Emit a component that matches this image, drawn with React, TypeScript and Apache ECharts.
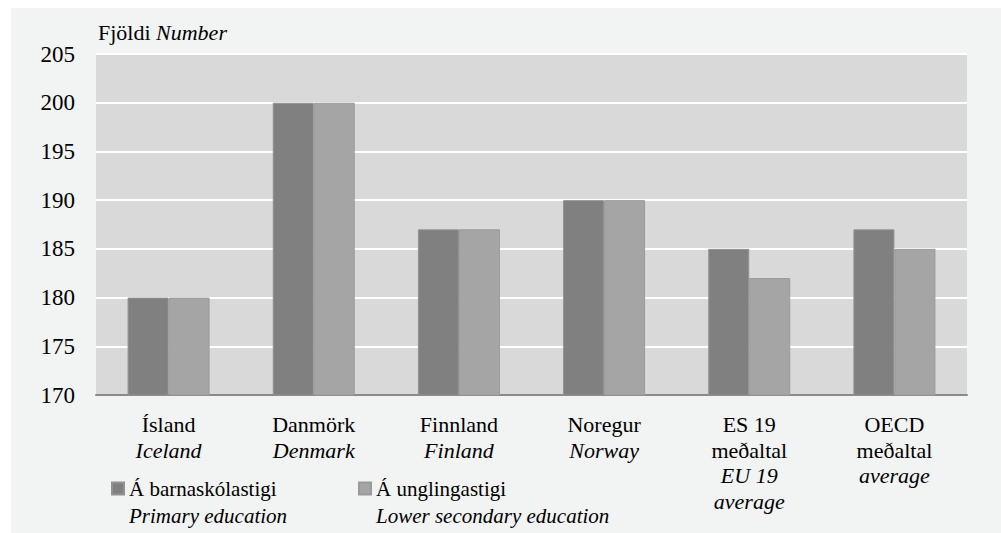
import React, { useEffect, useRef } from "react";
import * as echarts from "echarts";

const categories = [
  "Ísland\n{i|Iceland}",
  "Danmörk\n{i|Denmark}",
  "Finnland\n{i|Finland}",
  "Noregur\n{i|Norway}",
  "ES 19\nmeðaltal\n{i|EU 19}\n{i|average}",
  "OECD\nmeðaltal\n{i|average}",
];
const primaryValues = [180, 200, 187, 190, 185, 187];
const lowerSecondaryValues = [180, 200, 187, 190, 182, 185];
const seriesNames = ["Á barnaskólastigi", "Á unglingastigi"];
const seriesSubNames = ["Primary education", "Lower secondary education"];
const yMin = 170;
const yMax = 205;
const yInterval = 5;

const FONT = "Liberation Serif";

export default function App() {
  const ref = useRef<HTMLDivElement>(null);
  useEffect(() => {
    if (!ref.current) return;
    const chart = echarts.init(ref.current, null, { renderer: "svg" });
    const legendCommon = (i: number, left: number) => ({
      left,
      top: 448,
      padding: 0,
      orient: "horizontal",
      itemWidth: 12,
      itemHeight: 12,
      icon: "rect",
      data: [seriesNames[i]],
      formatter: (name: string) => name + "\n{i|" + seriesSubNames[seriesNames.indexOf(name)] + "}",
      textStyle: {
        fontFamily: FONT,
        fontSize: 21,
        color: "#000",
        lineHeight: 27,
        padding: [27, 0, 0, 0],
        rich: {
          i: { fontFamily: FONT, fontSize: 21, fontStyle: "italic", color: "#000", lineHeight: 27 },
        },
      },
    });
    chart.setOption({
      animation: false,
      backgroundColor: "#ffffff",
      textStyle: { fontFamily: FONT },
      graphic: [
        {
          type: "rect",
          z: -10,
          silent: true,
          shape: { x: 11, y: 8, width: 990, height: 525 },
          style: { fill: "#f2f3f3" },
        },
      ],
      title: {
        text: "Fjöldi {i|Number}",
        left: 98,
        top: 21,
        padding: 0,
        textStyle: {
          fontFamily: FONT,
          fontSize: 22,
          fontWeight: "normal",
          color: "#000",
          rich: { i: { fontFamily: FONT, fontSize: 22, fontStyle: "italic", color: "#000" } },
        },
      },
      legend: [legendCommon(0, 111), legendCommon(1, 358)],
      grid: {
        left: 96,
        right: 34,
        top: 54,
        bottom: 138,
        show: true,
        backgroundColor: "#d9d9d9",
        borderWidth: 0,
      },
      xAxis: {
        type: "category",
        data: categories,
        axisTick: { show: false },
        axisLine: { show: true, lineStyle: { color: "#8a8a8a", width: 2 } },
        axisLabel: {
          interval: 0,
          margin: 17,
          fontFamily: FONT,
          fontSize: 22,
          color: "#000",
          lineHeight: 25.5,
          rich: {
            i: { fontFamily: FONT, fontSize: 22, fontStyle: "italic", color: "#000", lineHeight: 25.5 },
          },
        },
      },
      yAxis: {
        type: "value",
        min: yMin,
        max: yMax,
        interval: yInterval,
        axisLine: { show: false },
        axisTick: { show: false },
        splitLine: { show: true, lineStyle: { color: "#ffffff", width: 2 } },
        axisLabel: { margin: 21, fontFamily: FONT, fontSize: 23, color: "#000" },
      },
      series: [
        {
          name: seriesNames[0],
          type: "bar",
          data: primaryValues,
          barWidth: 41,
          barGap: "0%",
          itemStyle: { color: "#808080", borderColor: "#929292", borderWidth: 1 },
        },
        {
          name: seriesNames[1],
          type: "bar",
          data: lowerSecondaryValues,
          barWidth: 41,
          barGap: "0%",
          itemStyle: { color: "#a5a5a5", borderColor: "#9a9a9a", borderWidth: 1 },
        },
      ],
    });
    return () => chart.dispose();
  }, []);
  return (
    <div
      ref={ref}
      style={{ position: "fixed", left: 0, top: 0, width: 1001, height: 533 }}
    />
  );
}
